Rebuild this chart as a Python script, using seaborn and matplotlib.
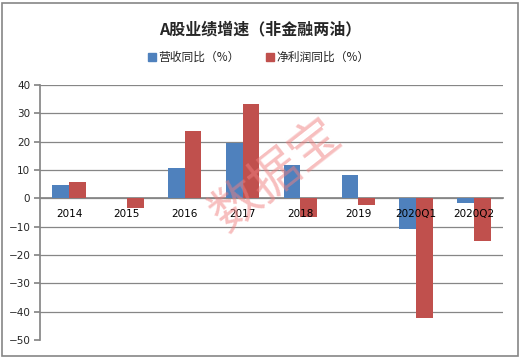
import numpy as np
import pandas as pd
import matplotlib
matplotlib.use("Agg")
import matplotlib.pyplot as plt
from matplotlib.patches import Rectangle
import seaborn as sns

sns.set_theme(style="white")
plt.rcParams['font.family'] = ['Noto Sans CJK SC', 'DejaVu Sans']

categories = ["2014", "2015", "2016", "2017", "2018", "2019", "2020Q1", "2020Q2"]
revenue = [4.7, 0.0, 10.8, 19.6, 11.8, 8.2, -11.0, -1.5]
profit = [5.9, -3.5, 23.8, 33.3, -6.7, -2.3, -42.2, -15.0]
series_names = ["营收同比（%）", "净利润同比（%）"]
colors = ["#4F81BD", "#C0504D"]

df = pd.DataFrame({
    "cat": categories * 2,
    "val": revenue + profit,
    "series": [series_names[0]] * len(categories) + [series_names[1]] * len(categories),
})

fig = plt.figure(figsize=(5.21, 3.58), dpi=100)
ax = fig.add_axes([0.0768, 0.0503, 0.8887, 0.7123])

sns.barplot(data=df, x="cat", y="val", hue="series", palette=colors,
            width=0.58, gap=0, saturation=1, linewidth=0, ax=ax, legend=False)

ax.set_ylim(-50, 40)
ax.set_yticks(range(-50, 41, 10))
ax.set_xlim(-0.5, len(categories) - 0.5)
# gridlines behind the bars, tick labels above them
for yv in range(-40, 41, 10):
    ax.axhline(yv, color="#868686", linewidth=0.9, zorder=0.5)
ax.set_axisbelow(False)
ax.set_xlabel("")
ax.set_ylabel("")

for s in ["top", "right"]:
    ax.spines[s].set_visible(False)
ax.spines["left"].set_color("#868686")
ax.spines["bottom"].set_position(("data", 0))
ax.spines["bottom"].set_color("#868686")
ax.spines["bottom"].set_zorder(0.6)

ax.set_xticks(range(len(categories)))
ax.set_xticklabels(categories)
ax.set_xticks(np.arange(-0.5, len(categories), 1.0), minor=True)
ax.tick_params(axis="x", which="major", length=0, pad=8, labelsize=7.5, colors="black")
ax.tick_params(axis="x", which="minor", length=4, direction="out", color="#868686", width=0.9)
ax.tick_params(axis="y", length=4, direction="out", color="#868686", labelsize=7.5, pad=3, left=True)
for lbl in ax.get_xticklabels() + ax.get_yticklabels():
    lbl.set_family("DejaVu Sans")

fig.suptitle("A股业绩增速（非金融两油）", x=0.5, y=0.94, fontsize=11.5, fontweight="bold")

handles = [Rectangle((0, 0), 1, 1, color=c) for c in colors]
fig.legend(handles, series_names, loc="center", bbox_to_anchor=(0.497, 0.84), ncol=2,
           frameon=False, fontsize=8.5, handlelength=0.7, handleheight=0.7,
           handletextpad=0.2, columnspacing=2.2)

# watermark
fig.text(0.53, 0.51, "数据宝", fontsize=36, color="#F08080", alpha=0.5,
         fontweight="light", rotation=38, ha="center", va="center", zorder=10)

fig.patches.append(Rectangle((0.004, 0.006), 0.99, 0.985, transform=fig.transFigure,
                             fill=False, edgecolor="#868686", linewidth=1.2))

fig.savefig("out.png", dpi=100)
